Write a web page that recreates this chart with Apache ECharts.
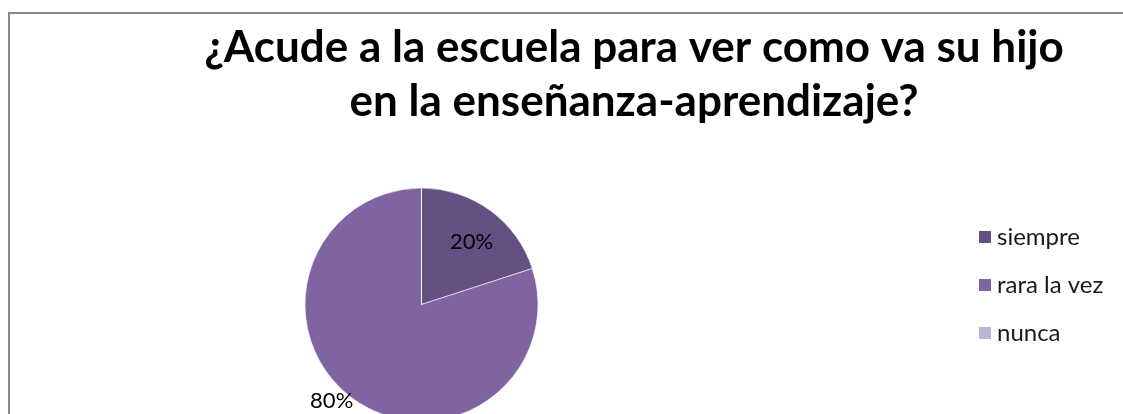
<!DOCTYPE html>
<html>
<head>
<meta charset="utf-8">
<script src="https://cdn.jsdelivr.net/npm/echarts@6/dist/echarts.min.js"></script>
<style>
  html, body { margin: 0; padding: 0; background: #fff; }
  #container { width: 1123px; height: 414px; }
</style>
</head>
<body>
<div id="container"></div>
<script>
const titleText = '¿Acude a la escuela para ver como va su hijo\nen la enseñanza-aprendizaje?'
const categories = ['siempre', 'rara la vez', 'nunca']
const percents = [20, 80, 0]
const colors = ['#654f83', '#8064a2', '#bfb1d0']

let chart = echarts.init(document.getElementById('container'))

let options = {
    animation: false,
    color: colors,
    title: {
        text: titleText,
        left: 629,
        top: 16,
        textAlign: 'center',
        textStyle: {
            fontFamily: 'Lato',
            fontWeight: 'bold',
            fontSize: 44,
            lineHeight: 54,
            color: '#000'
        }
    },
    graphic: {
        elements: [
            {
                type: 'rect',
                shape: { x: 9, y: 13, width: 1300, height: 600 },
                style: { fill: 'none', stroke: '#898989', lineWidth: 2 },
                silent: true
            }
        ]
    },
    legend: {
        orient: 'vertical',
        left: 972,
        top: 220,
        icon: 'rect',
        itemWidth: 14,
        itemHeight: 14,
        itemGap: 24,
        data: categories,
        textStyle: {
            fontFamily: 'Lato',
            fontSize: 24,
            color: '#1a1a1a'
        }
    },
    series: [
        {
            type: 'pie',
            center: [421.5, 304.5],
            radius: 116.5,
            startAngle: 90,
            clockwise: true,
            avoidLabelOverlap: false,
            itemStyle: { borderColor: '#fff', borderWidth: 0.6 },
            label: {
                fontFamily: 'Lato',
                fontSize: 22,
                color: '#000',
                formatter: p => p.value + '%'
            },
            labelLine: { show: false },
            labelLayout: p => p.dataIndex === 0 ? { dx: 14, dy: -13 } : { dx: 7 },
            emphasis: { disabled: true },
            data: categories.map((name, i) => ({
                name: name,
                value: percents[i],
                label: i === 0
                    ? { show: true, position: 'inside' }
                    : i === 1
                        ? { show: true, position: 'outside' }
                        : { show: false },
                labelLine: { show: false, length: 3, length2: 0 }
            }))
        }
    ]
}

chart.setOption(options)
</script>
</body>
</html>
